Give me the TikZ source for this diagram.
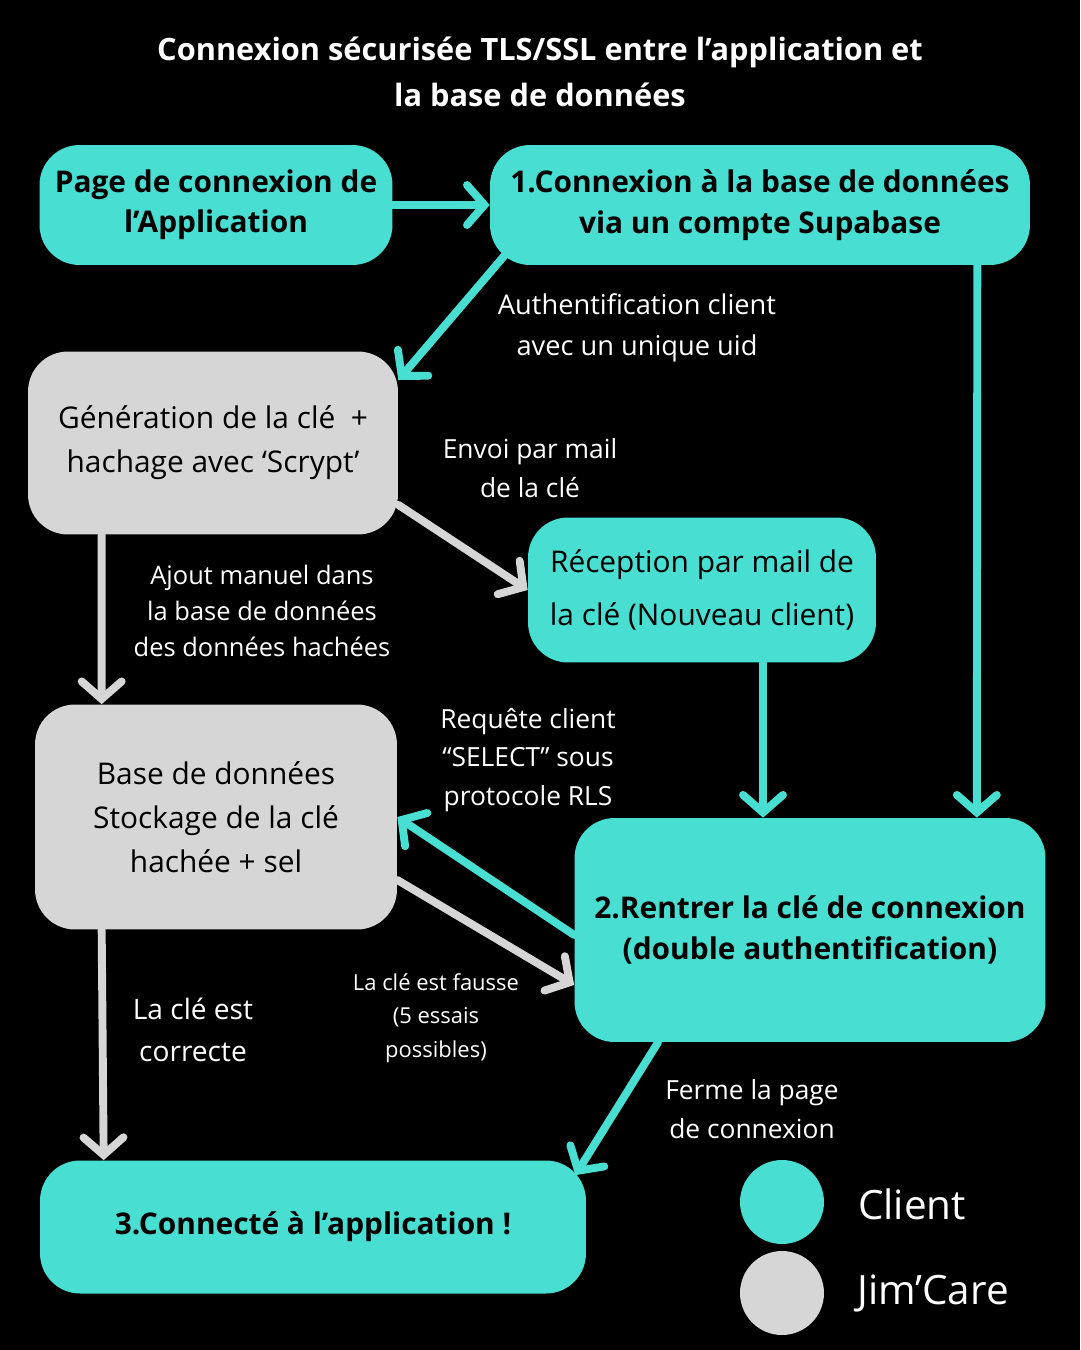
\documentclass[tikz,border=0pt]{standalone}
\usepackage{fontspec}
\setmainfont{Open Sans}
\usetikzlibrary{arrows.meta}
\definecolor{jcTeal}{RGB}{72,222,210}
\definecolor{jcGray}{RGB}{214,214,214}

\tikzset{
  tealbox/.style={fill=jcTeal, rounded corners=0.8cm, font=\fontsize{17}{23}\selectfont\bfseries, align=center, inner sep=0pt},
  graybox/.style={fill=jcGray, rounded corners=0.8cm, font=\fontsize{17}{25}\selectfont, align=center, inner sep=0pt},
  lbl/.style={text=white, font=\fontsize{15.5}{23}\selectfont, align=center},
  flow/.style={line width=4.5pt, -{Straight Barb[length=0.35cm, width=0.8cm, line cap=round]}, line cap=round},
}

\begin{document}
\begin{tikzpicture}[x=0.02cm, y=-0.02cm]

  \useasboundingbox[fill=black] (0,0) rectangle (1080,1350);

  % title
  \node[text=white, font=\fontsize{17.5}{26}\selectfont\bfseries, align=center] (title) at (540,72)
    {Connexion sécurisée TLS/SSL entre l’application et\\la base de données};

  % boxes
  \node[tealbox, minimum width=7.06cm, minimum height=2.4cm] (page) at (216,205) {Page de connexion de\\l’Application};
  \node[tealbox, minimum width=10.8cm, minimum height=2.4cm] (conn) at (760,205) {1.Connexion à la base de données\\via un compte Supabase};
  \node[graybox, minimum width=7.4cm, minimum height=3.66cm] (gen) at (213,443) {Génération de la clé~ +\\hachage avec ‘Scrypt’};
  \node[tealbox, font=\fontsize{17}{30}\selectfont, minimum width=6.96cm, minimum height=2.9cm] (rec) at (702,590) {Réception par mail de\\la clé (Nouveau client)};
  \node[graybox, minimum width=7.24cm, minimum height=4.5cm] (base) at (216,817) {Base de données\\Stockage de la clé\\hachée + sel};
  \node[tealbox, minimum width=9.42cm, minimum height=4.48cm] (rent) at (810,930) {2.Rentrer la clé de connexion\\(double authentification)};
  \node[tealbox, minimum width=10.92cm, minimum height=2.66cm] (done) at (313,1227) {3.Connecté à l’application !};

  % connectors
  \draw[flow, jcTeal] (page.east) -- (conn.west);
  \draw[flow, jcTeal] ([xshift=0.3cm, yshift=0.2cm]conn.south west) -- ([yshift=1.26cm]gen.east);
  \draw[flow, jcTeal] ([xshift=-1.06cm]conn.south east) -- ([xshift=-1.38cm]rent.north east);
  \draw[flow, jcGray] ([yshift=0.6cm]gen.south east) -- (rec.west);
  \draw[flow, jcGray] ([xshift=1.48cm]gen.south west) -- ([xshift=1.34cm]base.north west);
  \draw[flow, jcTeal] ([xshift=1.22cm]rec.south) -- ([xshift=-0.94cm]rent.north);
  \draw[flow, jcTeal] ([yshift=-0.1cm]rent.west) -- (base.east);
  \draw[flow, jcGray] ([yshift=-1.26cm]base.east) -- ([yshift=-1.1cm]rent.west);
  \draw[flow, jcGray] ([xshift=1.34cm]base.south west) -- ([xshift=1.28cm]done.north west);
  \draw[flow, jcTeal] ([xshift=-3.04cm]rent.south) -- ([xshift=-0.22cm, yshift=-0.3cm]done.north east);

  % labels
  \node[lbl] (lauth) at (637,328) {Authentification client\\avec un unique uid};
  \node[lbl, font=\fontsize{15}{22}\selectfont] (lmail) at (530,468) {Envoi par mail\\de la clé};
  \node[lbl, font=\fontsize{14.5}{20.5}\selectfont] (lajout) at (262,611) {Ajout manuel dans\\la base de données\\des données hachées};
  \node[lbl, font=\fontsize{15}{22}\selectfont] (lreq) at (528,760) {Requête client\\“SELECT” sous\\protocole RLS};
  \node[lbl, font=\fontsize{16}{24}\selectfont] (lok) at (193,1030) {La clé est\\correcte};
  \node[lbl, font=\fontsize{12.5}{19}\selectfont] (lfaux) at (436,1018) {La clé est fausse\\(5 essais\\possibles)};
  \node[lbl, font=\fontsize{15}{22}\selectfont] (lferme) at (752,1109) {Ferme la page\\de connexion};

  % legend
  \fill[jcTeal] (782,1202) circle [radius=0.84cm];
  \fill[jcGray] (782,1293) circle [radius=0.84cm];
  \node[text=white, font=\fontsize{23}{28}\selectfont] (lclient) at (912,1204) {Client};
  \node[text=white, font=\fontsize{23}{28}\selectfont] (ljim) at (933,1293) {Jim’Care};

\end{tikzpicture}
\end{document}
